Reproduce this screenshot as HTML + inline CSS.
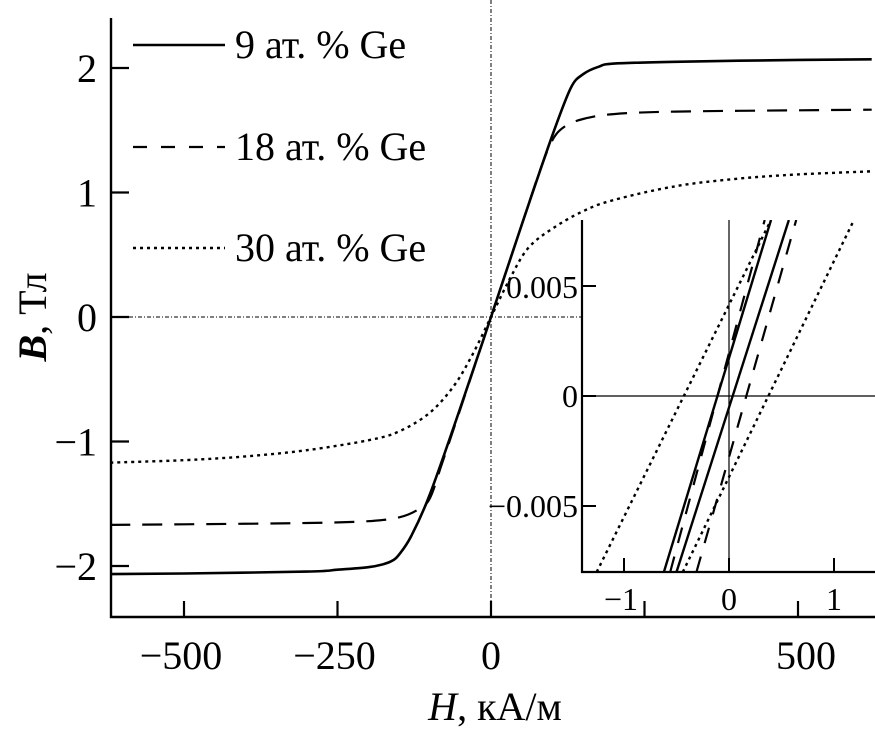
<!DOCTYPE html>
<html><head><meta charset="utf-8"><style>
html,body{margin:0;padding:0;background:#fff;}
svg{display:block;font-family:"Liberation Serif",serif;}
</style></head><body>
<svg id="chart" width="875" height="731" viewBox="0 0 875 731">
</svg>
<script>
// Main chart data (H in kA/m, B in T)
const mainHTicks = [-500, -250, 0, 250, 500];
const mainHTickLabels = ["\u2212500", "\u2212250", "0", "", "500"];
const mainBTicks = [2, 1, 0, -1, -2];
const mainBTickLabels = ["2", "1", "0", "\u22121", "\u22122"];

const solidH = [-620,-500,-300,-250,-200,-175,-160,-150,-130,-100,-50,0,50,100,130,150,175,200,300,500,620];
const solidB = [-2.065,-2.06,-2.045,-2.03,-2.01,-1.985,-1.955,-1.91,-1.76,-1.43,-0.73,0,0.74,1.46,1.84,1.95,2.01,2.035,2.05,2.065,2.07];
const dashH = [-620,-500,-300,-200,-150,-120,-100,-80,-50,0,50,80,100,120,150,200,300,500,620];
const dashB = [-1.67,-1.665,-1.655,-1.64,-1.61,-1.55,-1.46,-1.18,-0.74,0,0.74,1.18,1.42,1.53,1.59,1.63,1.65,1.66,1.665];
const dotH = [-620,-500,-400,-300,-200,-150,-100,-60,-30,0,30,60,100,150,200,300,400,500,620];
const dotB = [-1.17,-1.15,-1.12,-1.07,-0.99,-0.92,-0.77,-0.55,-0.30,0,0.30,0.55,0.71,0.85,0.94,1.05,1.11,1.145,1.17];

// Inset data: each branch as [H at B=-0.008, H at B=+0.008]
const insetBranchBottomH = [-0.62, -0.50, -0.56, -0.31, -1.26, -0.44];
const insetBranchTopH    = [0.40, 0.57, 0.34, 0.64, 0.40, 1.19];
const insetBranchStyle   = ["solid","solid","dash","dash","dot","dot"];
const insetHTicks = [-1, 0, 1];
const insetHTickLabels = ["\u22121", "0", "1"];
const insetBTicks = [0.005, 0, -0.005];
const insetBTickLabels = ["0.005", "0", "\u22120.005"];

const NS = "http://www.w3.org/2000/svg";
const svg = document.getElementById("chart");
function mk(tag, attrs, parent){const e=document.createElementNS(NS,tag);for(const k in attrs)e.setAttribute(k,attrs[k]);(parent||svg).appendChild(e);return e;}

const xS = h => 491 + h * 0.614;
const yS = b => 317 - b * 124.5;
const L = 111, R = 875, T = 18, BOT = 617;

const styles = {solid:{"stroke-width":2.6}, dash:{"stroke-width":2.2,"stroke-dasharray":"20 12"}, dot:{"stroke-width":2.4,"stroke-dasharray":"3 4"}};

let e = mk("line",{x1:491,y1:0,x2:491,y2:BOT,stroke:"#000","stroke-width":1,"stroke-dasharray":"4 2 1 2"});
 
e = mk("line",{x1:L,y1:317,x2:582,y2:317,stroke:"#000","stroke-width":1,"stroke-dasharray":"4 2 1 2"});
 

function smoothPath(pts){
  let d = "M"+pts[0][0].toFixed(1)+" "+pts[0][1].toFixed(1);
  for(let i=0;i<pts.length-1;i++){
    const p0=pts[Math.max(i-1,0)], p1=pts[i], p2=pts[i+1], p3=pts[Math.min(i+2,pts.length-1)];
    const c1=[p1[0]+(p2[0]-p0[0])/6, p1[1]+(p2[1]-p0[1])/6];
    const c2=[p2[0]-(p3[0]-p1[0])/6, p2[1]-(p3[1]-p1[1])/6];
    d += ` C${c1[0].toFixed(1)} ${c1[1].toFixed(1)} ${c2[0].toFixed(1)} ${c2[1].toFixed(1)} ${p2[0].toFixed(1)} ${p2[1].toFixed(1)}`;
  }
  return d;
}
function series(H,B,st,name){
  const pts = H.map((h,i)=>[xS(h), yS(B[i])]);
  const p = mk("path",Object.assign({d:smoothPath(pts),fill:"none",stroke:"#000"},styles[st]));
  
  
}
series(dotH,dotB,"dot","series-30-ge");
series(dashH,dashB,"dash","series-18-ge");
series(solidH,solidB,"solid","series-9-ge");

e = mk("path",{d:`M${L} ${T} L${L} ${BOT} L${R} ${BOT}`,fill:"none",stroke:"#000","stroke-width":2.4});
 
mainHTicks.forEach((h,i)=>{
  const t = mk("line",{x1:xS(h),y1:BOT,x2:xS(h),y2:BOT-16,stroke:"#000","stroke-width":2.2});
   
  const tx = mk("text",{x:xS(h)+(mainHTickLabels[i].startsWith("\u2212")?-3:(h>0?8:0)),y:669,"text-anchor":"middle","font-size":40});
  tx.textContent = mainHTickLabels[i];
   
});
mainBTicks.forEach((b,i)=>{
  const t = mk("line",{x1:L,y1:yS(b),x2:L+18,y2:yS(b),stroke:"#000","stroke-width":2.2});
   
  const tx = mk("text",{x:97,y:yS(b)+14,"text-anchor":"end","font-size":40});
  tx.textContent = mainBTickLabels[i];
   
});
e = mk("text",{x:495,y:720,"text-anchor":"middle","font-size":40});
e.innerHTML = '<tspan font-style="italic">H</tspan>, кА/м';
 
e = mk("text",{x:0,y:0,"text-anchor":"middle","font-size":40,transform:"translate(46 317) rotate(-90)"});
e.innerHTML = '<tspan font-style="italic" font-weight="bold">B</tspan>, Тл';
 

const legNames = ["9 ат. % Ge","18 ат. % Ge","30 ат. % Ge"];
const legStyles = ["solid","dash","dot"];
const legY = [45,147,248];
legNames.forEach((n,i)=>{
  const g = mk("g",{});
   
  const st = Object.assign({},styles[legStyles[i]]);
  if(legStyles[i]==="dash") st["stroke-dasharray"]="14 14";
  mk("line",Object.assign({x1:133,y1:legY[i],x2:225,y2:legY[i],stroke:"#000"},st),g);
  const t = mk("text",{x:235,y:legY[i]+13,"font-size":40},g);
  t.textContent = n;
});

const iL=582, iB=572, iT=220, iR=875;
const ixS = h => 729 + h*105;
const iyS = b => 396 - b/0.005*110;
e = mk("rect",{x:iL,y:iT,width:iR-iL,height:iB-iT,fill:"#fff"});
 
e = mk("text",{x:578,y:298,"text-anchor":"end","font-size":32});
e.textContent = insetBTickLabels[0];
 
const clip = mk("clipPath",{id:"ic"}); mk("rect",{x:iL,y:iT,width:iR-iL,height:iB-iT},clip);
const ig = mk("g",{"clip-path":"url(#ic)"});
 
mk("line",{x1:ixS(0),y1:iT,x2:ixS(0),y2:iB,stroke:"#000","stroke-width":1.2},ig);
mk("line",{x1:iL,y1:iyS(0),x2:iR,y2:iyS(0),stroke:"#000","stroke-width":1.2},ig);
const ist = {solid:{"stroke-width":2.4},dash:{"stroke-width":2.2,"stroke-dasharray":"16 14"},dot:{"stroke-width":2.4,"stroke-dasharray":"3 4"}};
insetBranchBottomH.forEach((h0,i)=>{
  const l = mk("line",Object.assign({x1:ixS(h0),y1:iyS(-0.008),x2:ixS(insetBranchTopH[i]),y2:iyS(0.008),stroke:"#000"},ist[insetBranchStyle[i]]),ig);
   
});
e = mk("path",{d:`M${iL} ${iT} L${iL} ${iB} L${iR} ${iB}`,fill:"none",stroke:"#000","stroke-width":2.2});
 
insetHTicks.forEach((h,i)=>{
  const t = mk("line",{x1:ixS(h),y1:iB,x2:ixS(h),y2:iB-14,stroke:"#000","stroke-width":2});
   
  const tx = mk("text",{x:ixS(h)+(h<0?-3:0),y:610,"text-anchor":"middle","font-size":32});
  tx.textContent = insetHTickLabels[i];
   
});
insetBTicks.forEach((b,i)=>{
  const t = mk("line",{x1:iL,y1:iyS(b),x2:iL+14,y2:iyS(b),stroke:"#000","stroke-width":2});
   
  if(i>0){
    const tx = mk("text",{x:578,y:iyS(b)+11,"text-anchor":"end","font-size":32});
    tx.textContent = insetBTickLabels[i];
     
  }
});
</script>
</body></html>
